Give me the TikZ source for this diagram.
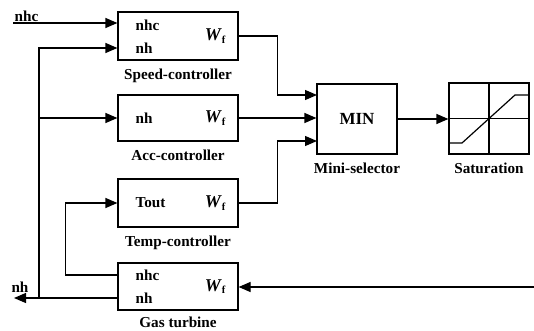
\documentclass[tikz,border=0pt]{standalone}
\usepackage{fontspec}
\setmainfont{Liberation Serif}
\usetikzlibrary{arrows.meta,positioning}

\newcommand{\wfuel}{{\fontsize{18}{20}\selectfont\textit{W}}\textsubscript{f}}

\begin{document}
\begin{tikzpicture}[x=1pt,y=-1pt,>={Triangle[length=12pt,width=10pt]},line width=1.2pt,
  font=\fontsize{15.2}{17}\selectfont\bfseries,
  block/.style={draw,rectangle,minimum width=120pt,minimum height=48pt,inner sep=0pt},
  small block/.style={draw,rectangle,minimum width=80pt,minimum height=70pt,inner sep=0pt},
  caption/.style={below=7.5pt of #1,inner sep=0pt},
  port/.style={anchor=west,inner sep=0pt},
  wf/.style={left=12pt of #1,inner sep=0pt}]
  \useasboundingbox (0,0) rectangle (534,331);

  \node[block] (speed) at (178,36) {};
  \node[block,minimum height=46pt] (acc) at (178,118) {};
  \node[block] (temp) at (178,203) {};
  \node[block,minimum height=47pt] (gas) at (178,286.5) {};
  \node[small block,font=\fontsize{17}{19}\selectfont\bfseries] (min) at (357,119) {MIN};
  \node[small block,minimum height=71pt] (sat) at (489,118.5) {};

  \node[port] (nhc1) at (135,25) {nhc};
  \node[port] (nh1) at (135,48) {nh};
  \node[wf=speed.east] (wf1) {\wfuel};
  \node[port] (nh2) at (135,118) {nh};
  \node[wf=acc.east] (wf2) {\wfuel};
  \node[port] (tout) at (135,203) {Tout};
  \node[wf=temp.east] (wf3) {\wfuel};
  \node[port] (nhc4) at (135,275) {nhc};
  \node[port] (nh4) at (135,298) {nh};
  \node[wf=gas.east] (wf4) {\wfuel};

  \node[caption=speed] {Speed-controller};
  \node[caption=acc] {Acc-controller};
  \node[caption=temp] {Temp-controller};
  \node[below=6pt of gas,inner sep=0pt] {Gas turbine};
  \node[caption=min] {Mini-selector};
  \node[caption=sat] {Saturation};

  \coordinate (ref) at (13,23);
  \coordinate (out) at (14,298);
  \coordinate (branch) at (39,298);
  \coordinate (fuel) at (534,287);
  \coordinate (in1) at (317,95);
  \coordinate (in3) at (317,141);
  \node[anchor=south west,inner sep=1pt] (reflabel) at (ref) {nhc};
  \node (outlabel) at (20,287) {nh};

  \draw[->] (ref) -- (ref -| speed.west);
  \draw[->] (gas.west |- out) -- (out);
  \draw[->] (branch) |- (speed.west |- nh1);
  \draw[->] (branch |- acc.west) -- (acc.west);
  \draw[->] (gas.west |- nhc4) -- ++(-52,0) |- (temp.west);
  \draw[->] (speed.east) -- ++(39,0) |- (in1);
  \draw[->] (acc.east) -- (acc.east -| min.west);
  \draw[->] (temp.east) -- ++(39,0) |- (in3);
  \draw[->] (min.east) -- (min.east -| sat.west);
  \draw[->] (fuel) -- (gas.east |- fuel);

  \draw (sat.north) -- (sat.south) (sat.west) -- (sat.east);
  \draw (449,143) -- (462,143) -- (515,95) -- (529,95);
\end{tikzpicture}
\end{document}
